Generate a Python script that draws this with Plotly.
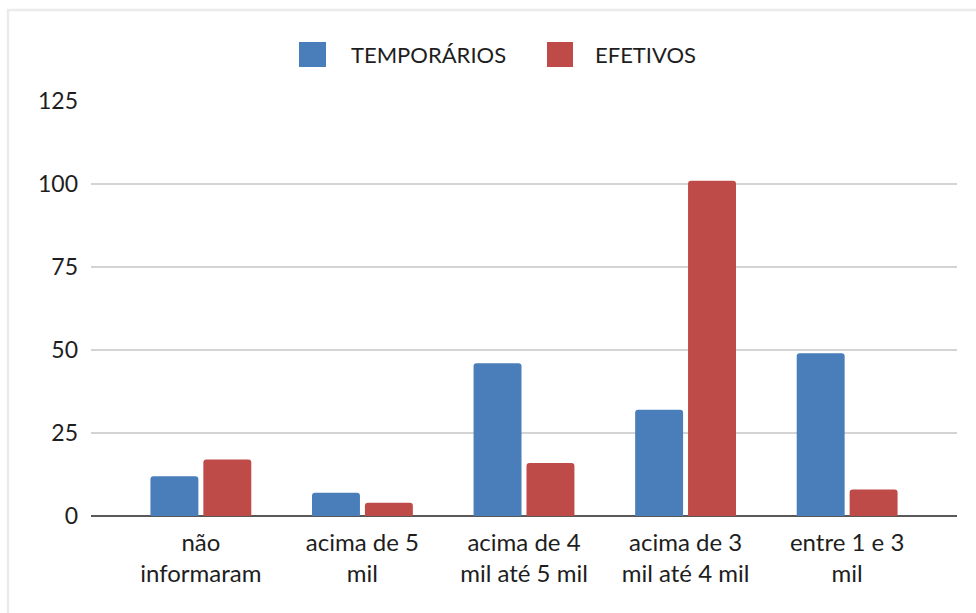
import plotly.graph_objects as go

categories = ["não<br>informaram", "acima de 5<br>mil", "acima de 4<br>mil até 5 mil",
              "acima de 3<br>mil até 4 mil", "entre 1 e 3<br>mil"]
temporarios = [12, 7, 46, 32, 49]
efetivos = [17, 4, 16, 101, 8]
series_names = ["TEMPORÁRIOS", "EFETIVOS"]
series_colors = ["#4A7EBB", "#BE4B48"]
y_ticks = [0, 25, 50, 75, 100, 125]

FONT = "Lato"
TXT = "#1e1e1e"

fig = go.Figure()
for name, vals, col in zip(series_names, [temporarios, efetivos], series_colors):
    fig.add_trace(go.Bar(x=categories, y=vals, name=name, marker=dict(color=col, line=dict(width=0), cornerradius=3),
                         showlegend=False))

# frame and manual legend (paper coordinates)
W, H = 976, 613
L, R, T, B = 91, 19, 101, 97
pw, ph = W - L - R, H - T - B
def px(x): return (x - L) / pw
def py(y): return (H - B - y) / ph

shapes = [dict(type="rect", xref="paper", yref="paper", x0=px(8), x1=px(990), y0=py(10), y1=py(630),
               line=dict(color="#ebebeb", width=2.5), fillcolor="rgba(0,0,0,0)", layer="below")]
annotations = []
leg = [(299, 326, 349), (547, 573, 593)]
for (x0, x1, tx), name, col in zip(leg, series_names, series_colors):
    shapes.append(dict(type="rect", xref="paper", yref="paper", x0=px(x0), x1=px(x1), y0=py(67), y1=py(42),
                       fillcolor=col, line=dict(width=0)))
    annotations.append(dict(xref="paper", yref="paper", x=px(tx), y=py(54), text=name, showarrow=False,
                            xanchor="left", yanchor="middle", font=dict(family=FONT, size=22, color=TXT)))

fig.update_layout(
    width=W, height=H,
    margin=dict(l=L, r=R, t=T, b=B),
    paper_bgcolor="white", plot_bgcolor="white",
    barmode="group", bargap=0.345, bargroupgap=0.094,
    font=dict(family=FONT, size=22, color=TXT),
    shapes=shapes, annotations=annotations,
    xaxis=dict(range=[-0.68, 4.68], showgrid=False, showline=False, ticks="", zeroline=False,
               ticklabelstandoff=10, tickfont=dict(size=24, color=TXT)),
    yaxis=dict(range=[0, 125], tickvals=y_ticks, showgrid=True, gridcolor="#d4d4d4", gridwidth=1.5,
               zeroline=True, zerolinecolor="#595959", zerolinewidth=2, showline=False, ticks="",
               ticklabelstandoff=12, tickfont=dict(size=23, color=TXT)),
)

fig.write_html("out.html", config={"displayModeBar": False},
               post_script="document.body.style.margin='0';document.body.style.overflow='hidden';")
